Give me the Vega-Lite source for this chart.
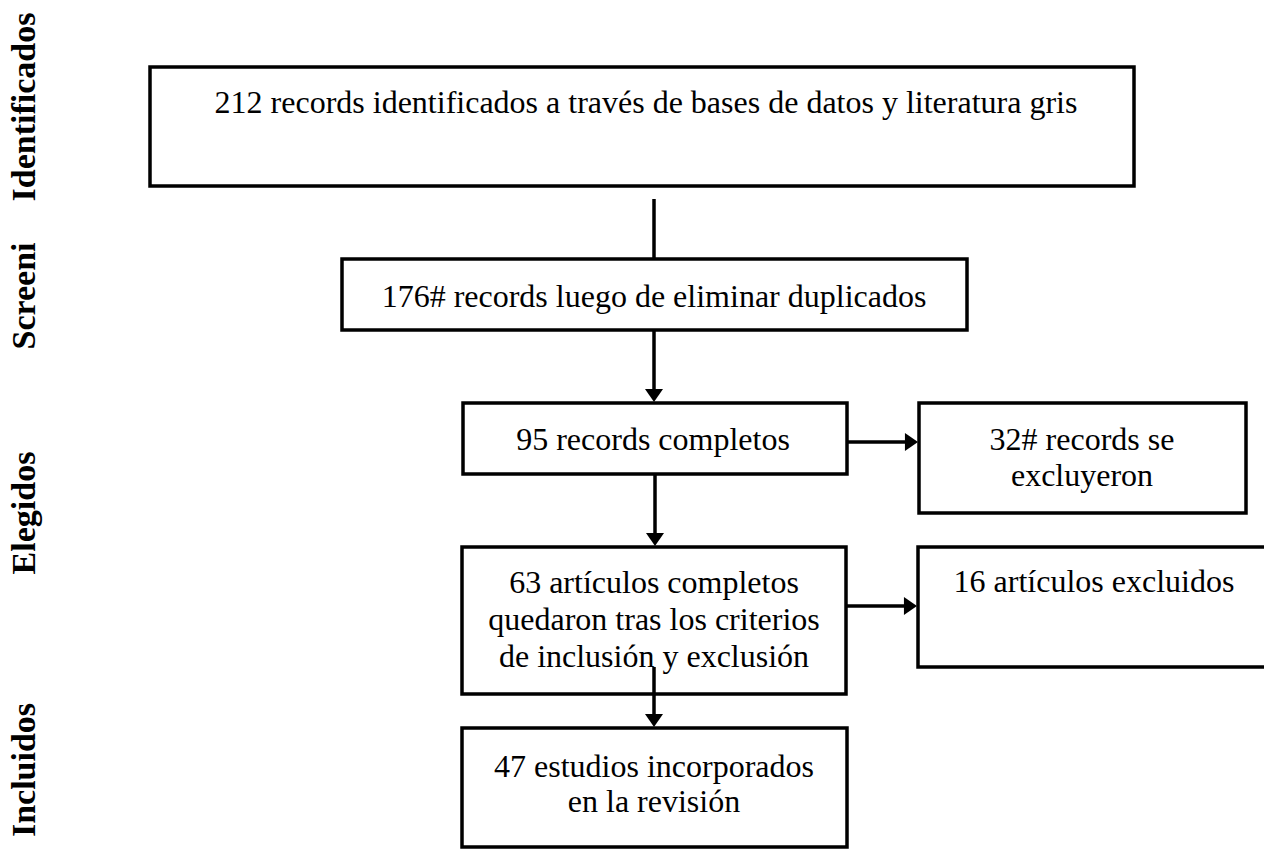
{
  "$schema": "https://vega.github.io/schema/vega-lite/v6.json",
  "width": 1264,
  "height": 849,
  "autosize": {"type": "fit", "contains": "padding"},
  "padding": 0,
  "background": "white",
  "config": {"view": {"stroke": null}},
  "datasets": {
    "boxes": [
      {"id": 1, "x1": 150, "x2": 1134, "y1": 67, "y2": 186},
      {"id": 2, "x1": 342, "x2": 967, "y1": 259, "y2": 330},
      {"id": 3, "x1": 463, "x2": 847, "y1": 403, "y2": 474},
      {"id": 4, "x1": 919, "x2": 1246, "y1": 403, "y2": 513},
      {"id": 5, "x1": 462, "x2": 846, "y1": 547, "y2": 694},
      {"id": 6, "x1": 918, "x2": 1275, "y1": 547, "y2": 667},
      {"id": 7, "x1": 462, "x2": 847, "y1": 728, "y2": 847}
    ],
    "links": [
      {"x1": 654, "y1": 199, "x2": 654, "y2": 258},
      {"x1": 654, "y1": 331, "x2": 654, "y2": 395},
      {"x1": 847, "y1": 442, "x2": 910, "y2": 442},
      {"x1": 655, "y1": 474, "x2": 655, "y2": 539},
      {"x1": 846, "y1": 606, "x2": 909, "y2": 606},
      {"x1": 654, "y1": 667, "x2": 654, "y2": 720}
    ],
    "heads": [
      {"x": 654, "y": 402, "dir": "down"},
      {"x": 655, "y": 546, "dir": "down"},
      {"x": 654, "y": 727, "dir": "down"},
      {"x": 918, "y": 442, "dir": "right"},
      {"x": 917, "y": 606, "dir": "right"}
    ],
    "texts": [
      {"x": 646, "y": 113, "text": "212 records identificados a través de bases de datos y literatura gris"},
      {"x": 654, "y": 307, "text": "176# records luego de eliminar duplicados"},
      {"x": 653, "y": 450, "text": "95 records completos"},
      {"x": 1082, "y": 450, "text": "32# records se"},
      {"x": 1082, "y": 486, "text": "excluyeron"},
      {"x": 654, "y": 593, "text": "63 artículos completos"},
      {"x": 654, "y": 630, "text": "quedaron tras los criterios"},
      {"x": 654, "y": 667, "text": "de inclusión y exclusión"},
      {"x": 1094, "y": 592, "text": "16 artículos excluidos"},
      {"x": 654, "y": 777, "text": "47 estudios incorporados"},
      {"x": 654, "y": 812, "text": "en la revisión"}
    ],
    "stages": [
      {"x": 35, "y": 107, "text": "Identificados"},
      {"x": 35, "y": 296, "text": "Screeni"},
      {"x": 35, "y": 513, "text": "Elegidos"},
      {"x": 35, "y": 770, "text": "Incluidos"}
    ]
  },
  "encoding": {
    "x": {"type": "quantitative", "scale": {"domain": [0, 1264], "nice": false, "zero": false}, "axis": null},
    "y": {"type": "quantitative", "scale": {"domain": [0, 849], "nice": false, "zero": false, "reverse": true}, "axis": null}
  },
  "layer": [
    {
      "data": {"name": "boxes"},
      "mark": {"type": "rect", "fill": "white", "stroke": "black", "strokeWidth": 3.5, "clip": true},
      "encoding": {
        "x": {"field": "x1", "type": "quantitative"},
        "x2": {"field": "x2"},
        "y": {"field": "y1", "type": "quantitative"},
        "y2": {"field": "y2"}
      }
    },
    {
      "data": {"name": "links"},
      "mark": {"type": "rule", "stroke": "black", "strokeWidth": 3.5},
      "encoding": {
        "x": {"field": "x1", "type": "quantitative"},
        "x2": {"field": "x2"},
        "y": {"field": "y1", "type": "quantitative"},
        "y2": {"field": "y2"}
      }
    },
    {
      "data": {"name": "heads"},
      "transform": [{"filter": "datum.dir === 'down'"}],
      "mark": {"type": "point", "shape": "M-1,-1.45L1,-1.45L0,0Z", "filled": true, "fill": "black", "strokeWidth": 0, "size": 324, "opacity": 1},
      "encoding": {
        "x": {"field": "x", "type": "quantitative"},
        "y": {"field": "y", "type": "quantitative"}
      }
    },
    {
      "data": {"name": "heads"},
      "transform": [{"filter": "datum.dir === 'right'"}],
      "mark": {"type": "point", "shape": "M-1.45,-1L-1.45,1L0,0Z", "filled": true, "fill": "black", "strokeWidth": 0, "size": 324, "opacity": 1},
      "encoding": {
        "x": {"field": "x", "type": "quantitative"},
        "y": {"field": "y", "type": "quantitative"}
      }
    },
    {
      "data": {"name": "texts"},
      "mark": {"type": "text", "font": "Liberation Serif", "fontSize": 32, "align": "center", "baseline": "alphabetic", "color": "black"},
      "encoding": {
        "x": {"field": "x", "type": "quantitative"},
        "y": {"field": "y", "type": "quantitative"},
        "text": {"field": "text"}
      }
    },
    {
      "data": {"name": "stages"},
      "mark": {"type": "text", "font": "Liberation Serif", "fontSize": 34, "fontWeight": "bold", "angle": 270, "align": "center", "baseline": "alphabetic", "color": "black"},
      "encoding": {
        "x": {"field": "x", "type": "quantitative"},
        "y": {"field": "y", "type": "quantitative"},
        "text": {"field": "text"}
      }
    }
  ]
}
